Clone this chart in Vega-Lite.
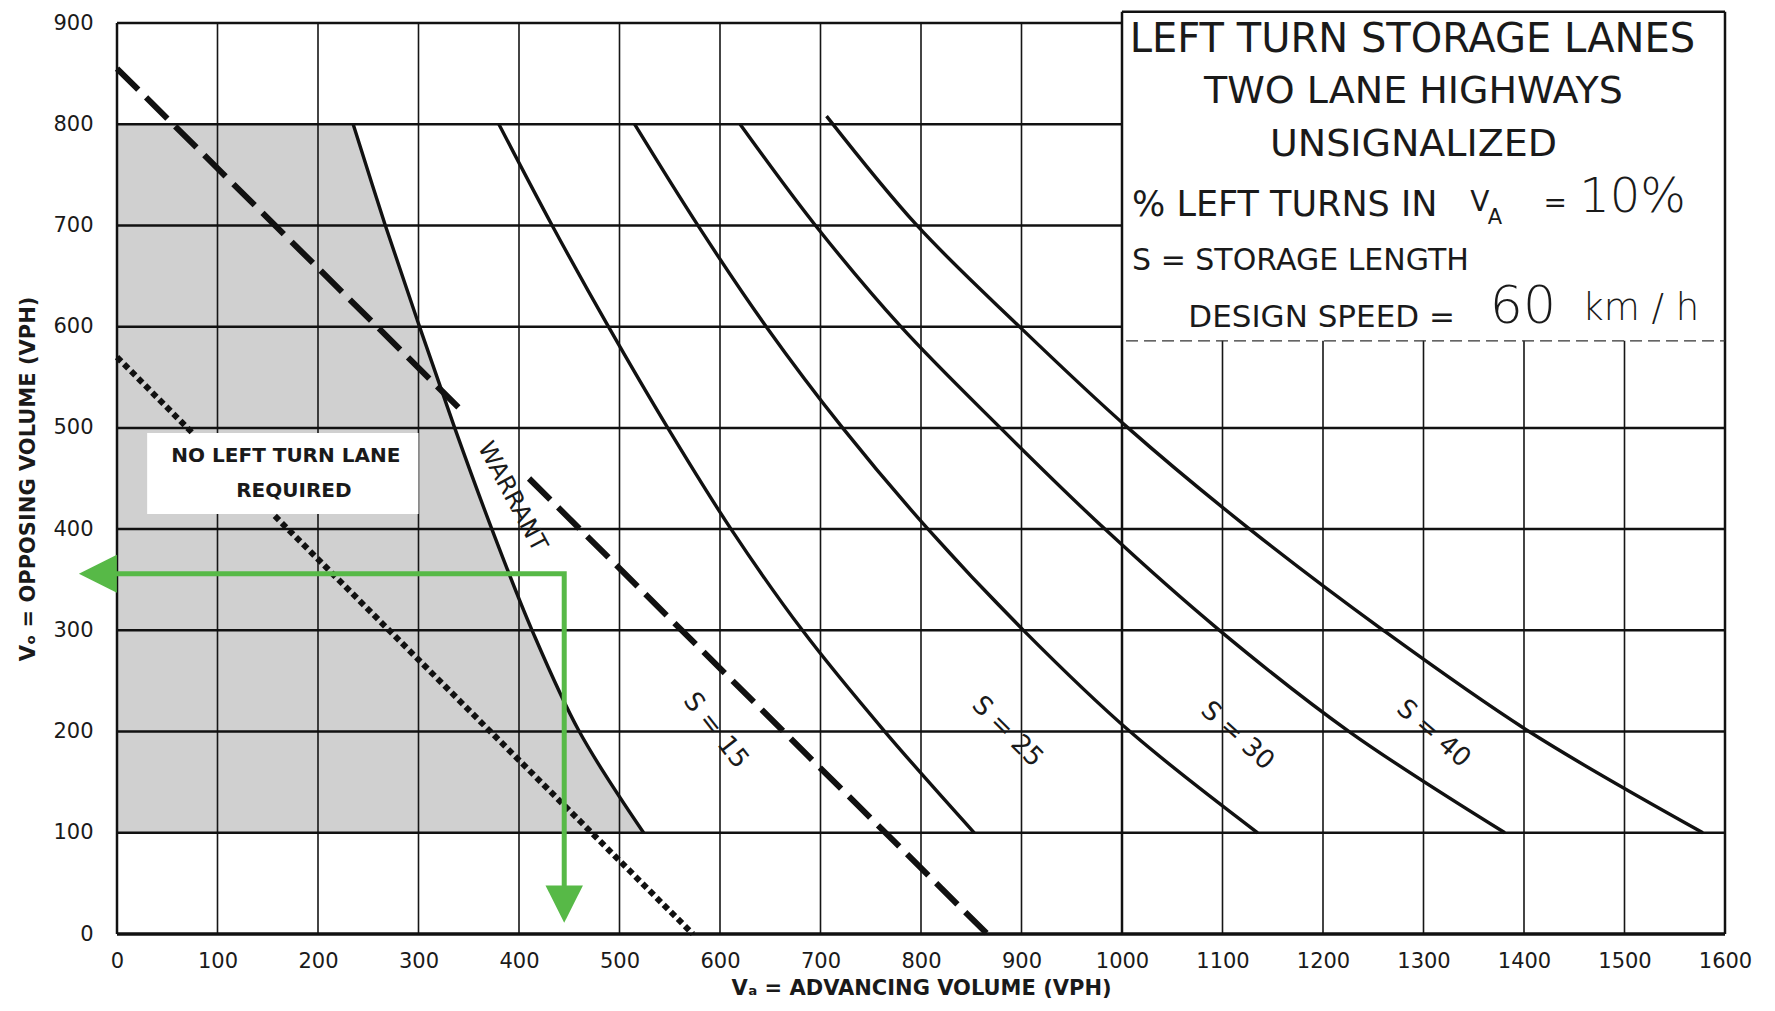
{
  "$schema": "https://vega.github.io/schema/vega-lite/v6.json",
  "width": 1608,
  "height": 911,
  "autosize": {"type": "none"},
  "padding": {"left": 117, "top": 23, "right": 50, "bottom": 77},
  "background": "#ffffff",
  "config": {
    "view": {"stroke": null},
    "text": {"font": "DejaVu Sans", "color": "#1a1a1a"},
    "axis": {"labelFont": "DejaVu Sans", "titleFont": "DejaVu Sans", "labelColor": "#1a1a1a", "titleColor": "#1a1a1a"}
  },
  "encoding": {
    "x": {
      "field": "x", "type": "quantitative",
      "scale": {"domain": [0, 1600], "nice": false, "zero": false},
      "axis": {
        "values": [0,100,200,300,400,500,600,700,800,900,1000,1100,1200,1300,1400,1500,1600],
        "format": "d",
        "ticks": false, "domain": false, "grid": false,
        "labelFontSize": 21, "labelPadding": 16, "labelFlush": false, "labelOverlap": false, "labelBound": false,
        "title": "Vₐ = ADVANCING VOLUME (VPH)", "titleFontSize": 21, "titleFontWeight": "bold", "titlePadding": 6
      }
    },
    "y": {
      "field": "y", "type": "quantitative",
      "scale": {"domain": [0, 900], "nice": false, "zero": false},
      "axis": {
        "values": [0,100,200,300,400,500,600,700,800,900],
        "format": "d",
        "ticks": false, "domain": false, "grid": false,
        "labelFontSize": 21, "labelPadding": 24, "labelFlush": false, "labelOverlap": false, "labelBound": false,
        "title": "Vₒ = OPPOSING VOLUME (VPH)", "titleFontSize": 21, "titleFontWeight": "bold", "titlePadding": 14
      }
    }
  },
  "layer": [
    {
      "data": {"values": [
        {"x": 524, "y": 100}, {"x": 460, "y": 200}, {"x": 413, "y": 300}, {"x": 373, "y": 400},
        {"x": 336, "y": 500}, {"x": 301, "y": 600}, {"x": 267, "y": 700}, {"x": 235, "y": 800}
      ]},
      "mark": {"type": "area", "orient": "horizontal", "color": "#d0d0d0", "opacity": 1, "interpolate": "catmull-rom", "clip": false},
      "encoding": {"x2": {"datum": 0}}
    },
    {
      "data": {"values": [
        {"x": 100, "x2": 100, "y": 0, "y2": 900}, {"x": 200, "x2": 200, "y": 0, "y2": 900},
        {"x": 300, "x2": 300, "y": 0, "y2": 900}, {"x": 400, "x2": 400, "y": 0, "y2": 900},
        {"x": 500, "x2": 500, "y": 0, "y2": 900}, {"x": 600, "x2": 600, "y": 0, "y2": 900},
        {"x": 700, "x2": 700, "y": 0, "y2": 900}, {"x": 800, "x2": 800, "y": 0, "y2": 900},
        {"x": 900, "x2": 900, "y": 0, "y2": 900},
        {"x": 1100, "x2": 1100, "y": 0, "y2": 586}, {"x": 1200, "x2": 1200, "y": 0, "y2": 586},
        {"x": 1300, "x2": 1300, "y": 0, "y2": 586}, {"x": 1400, "x2": 1400, "y": 0, "y2": 586},
        {"x": 1500, "x2": 1500, "y": 0, "y2": 586}
      ]},
      "mark": {"type": "rule", "color": "#161616", "strokeWidth": 1.6, "clip": false},
      "encoding": {"x2": {"field": "x2"}, "y2": {"field": "y2"}}
    },
    {
      "data": {"values": [
        {"x": 0, "x2": 1600, "y": 100, "y2": 100}, {"x": 0, "x2": 1600, "y": 200, "y2": 200},
        {"x": 0, "x2": 1600, "y": 300, "y2": 300}, {"x": 0, "x2": 1600, "y": 400, "y2": 400},
        {"x": 0, "x2": 1600, "y": 500, "y2": 500}, {"x": 0, "x2": 1000, "y": 600, "y2": 600},
        {"x": 0, "x2": 1000, "y": 700, "y2": 700}, {"x": 0, "x2": 1000, "y": 800, "y2": 800}
      ]},
      "mark": {"type": "rule", "color": "#111111", "strokeWidth": 2.5, "clip": false},
      "encoding": {"x2": {"field": "x2"}, "y2": {"field": "y2"}}
    },
    {
      "data": {"values": [
        {"x": 30, "x2": 300, "y": 415, "y2": 495}
      ]},
      "mark": {"type": "rect", "color": "#ffffff", "opacity": 1, "clip": false},
      "encoding": {"x2": {"field": "x2"}, "y2": {"field": "y2"}}
    },
    {
      "data": {"values": [
        {"x": 0, "x2": 0, "y": 0, "y2": 900}, {"x": 1000, "x2": 1000, "y": 0, "y2": 911},
        {"x": 1600, "x2": 1600, "y": 0, "y2": 911}, {"x": 0, "x2": 1000, "y": 900, "y2": 900},
        {"x": 1000, "x2": 1600, "y": 911, "y2": 911}
      ]},
      "mark": {"type": "rule", "color": "#111111", "strokeWidth": 2.5, "clip": false},
      "encoding": {"x2": {"field": "x2"}, "y2": {"field": "y2"}}
    },
    {
      "data": {"values": [
        {"x": 0, "x2": 1600, "y": 0, "y2": 0}
      ]},
      "mark": {"type": "rule", "color": "#111111", "strokeWidth": 3.6, "clip": false},
      "encoding": {"x2": {"field": "x2"}, "y2": {"field": "y2"}}
    },
    {
      "data": {"values": [
        {"x": 1004, "x2": 1600, "y": 586, "y2": 586}
      ]},
      "mark": {"type": "rule", "color": "#333333", "strokeWidth": 1.2, "strokeDash": [12, 6], "clip": false},
      "encoding": {"x2": {"field": "x2"}, "y2": {"field": "y2"}}
    },
    {
      "data": {"values": [
        {"c": "warrant", "x": 235, "y": 800}, {"c": "warrant", "x": 267, "y": 700}, {"c": "warrant", "x": 301, "y": 600},
        {"c": "warrant", "x": 336, "y": 500}, {"c": "warrant", "x": 373, "y": 400}, {"c": "warrant", "x": 413, "y": 300},
        {"c": "warrant", "x": 460, "y": 200}, {"c": "warrant", "x": 524, "y": 100},
        {"c": "S15", "x": 380, "y": 800}, {"c": "S15", "x": 433, "y": 700}, {"c": "S15", "x": 489, "y": 600},
        {"c": "S15", "x": 548, "y": 500}, {"c": "S15", "x": 611, "y": 400}, {"c": "S15", "x": 682, "y": 300},
        {"c": "S15", "x": 764, "y": 200}, {"c": "S15", "x": 853, "y": 100},
        {"c": "S25", "x": 515, "y": 800}, {"c": "S25", "x": 578, "y": 700}, {"c": "S25", "x": 646, "y": 600},
        {"c": "S25", "x": 722, "y": 500}, {"c": "S25", "x": 807, "y": 400}, {"c": "S25", "x": 902, "y": 300},
        {"c": "S25", "x": 1008, "y": 200}, {"c": "S25", "x": 1135, "y": 100},
        {"c": "S30", "x": 620, "y": 800}, {"c": "S30", "x": 695, "y": 700}, {"c": "S30", "x": 780, "y": 600},
        {"c": "S30", "x": 879, "y": 500}, {"c": "S30", "x": 983, "y": 400}, {"c": "S30", "x": 1097, "y": 300},
        {"c": "S30", "x": 1226, "y": 200}, {"c": "S30", "x": 1381, "y": 100},
        {"c": "S40", "x": 706, "y": 808}, {"c": "S40", "x": 796, "y": 700}, {"c": "S40", "x": 898, "y": 600},
        {"c": "S40", "x": 1006, "y": 500}, {"c": "S40", "x": 1127, "y": 400}, {"c": "S40", "x": 1260, "y": 300},
        {"c": "S40", "x": 1405, "y": 200}, {"c": "S40", "x": 1578, "y": 100}
      ]},
      "mark": {"type": "line", "color": "#111111", "strokeWidth": 3.4, "interpolate": "catmull-rom", "clip": false},
      "encoding": {"detail": {"field": "c"}}
    },
    {
      "data": {"values": [
        {"seg": "a", "x": 0, "y": 855}, {"seg": "a", "x": 343, "y": 517},
        {"seg": "b", "x": 410, "y": 450}, {"seg": "b", "x": 866, "y": 0}
      ]},
      "mark": {"type": "line", "color": "#111111", "strokeWidth": 6, "strokeDash": [30, 11], "clip": false},
      "encoding": {"detail": {"field": "seg"}}
    },
    {
      "data": {"values": [
        {"seg": "a", "x": 0, "y": 570}, {"seg": "a", "x": 75, "y": 495},
        {"seg": "b", "x": 157, "y": 413}, {"seg": "b", "x": 573, "y": 0}
      ]},
      "mark": {"type": "line", "color": "#111111", "strokeWidth": 6, "strokeDash": [6, 4], "clip": false},
      "encoding": {"detail": {"field": "seg"}}
    },
    {
      "data": {"values": [{"x": 1289, "y": 883, "t": "LEFT TURN STORAGE LANES"}]},
      "mark": {"type": "text", "fontSize": 40, "align": "center", "baseline": "middle", "clip": false},
      "encoding": {"text": {"field": "t"}}
    },
    {
      "data": {"values": [{"x": 1290, "y": 832, "t": "TWO LANE HIGHWAYS"}, {"x": 1290, "y": 779, "t": "UNSIGNALIZED"}]},
      "mark": {"type": "text", "fontSize": 38, "align": "center", "baseline": "middle", "clip": false},
      "encoding": {"text": {"field": "t"}}
    },
    {
      "data": {"values": [{"x": 1010, "y": 720, "t": "% LEFT TURNS IN"}]},
      "mark": {"type": "text", "fontSize": 35, "align": "left", "baseline": "middle", "clip": false},
      "encoding": {"text": {"field": "t"}}
    },
    {
      "data": {"values": [{"x": 1356, "y": 722, "t": "V"}, {"x": 1431, "y": 721, "t": "="}]},
      "mark": {"type": "text", "fontSize": 28, "align": "center", "baseline": "middle", "clip": false},
      "encoding": {"text": {"field": "t"}}
    },
    {
      "data": {"values": [{"x": 1371, "y": 707, "t": "A"}]},
      "mark": {"type": "text", "fontSize": 21, "align": "center", "baseline": "middle", "clip": false},
      "encoding": {"text": {"field": "t"}}
    },
    {
      "data": {"values": [{"x": 1455, "y": 727, "t": "10%"}]},
      "mark": {"type": "text", "fontSize": 48, "fontWeight": 300, "align": "left", "baseline": "middle", "clip": false},
      "encoding": {"text": {"field": "t"}}
    },
    {
      "data": {"values": [{"x": 1010, "y": 665, "t": "S = STORAGE LENGTH"}]},
      "mark": {"type": "text", "fontSize": 30, "align": "left", "baseline": "middle", "clip": false},
      "encoding": {"text": {"field": "t"}}
    },
    {
      "data": {"values": [{"x": 1066, "y": 609, "t": "DESIGN SPEED ="}]},
      "mark": {"type": "text", "fontSize": 31, "align": "left", "baseline": "middle", "clip": false},
      "encoding": {"text": {"field": "t"}}
    },
    {
      "data": {"values": [{"x": 1366, "y": 619, "t": "60"}]},
      "mark": {"type": "text", "fontSize": 52, "fontWeight": 300, "align": "left", "baseline": "middle", "clip": false},
      "encoding": {"text": {"field": "t"}}
    },
    {
      "data": {"values": [{"x": 1458, "y": 617, "t": "km / h"}]},
      "mark": {"type": "text", "fontSize": 37, "fontWeight": 300, "align": "left", "baseline": "middle", "clip": false},
      "encoding": {"text": {"field": "t"}}
    },
    {
      "data": {"values": [{"x": 168, "y": 472, "t": "NO LEFT TURN LANE"}, {"x": 176, "y": 438, "t": "REQUIRED"}]},
      "mark": {"type": "text", "fontSize": 20, "fontWeight": "bold", "align": "center", "baseline": "middle", "clip": false},
      "encoding": {"text": {"field": "t"}}
    },
    {
      "data": {"values": [{"x": 393, "y": 432, "t": "WARRANT"}]},
      "mark": {"type": "text", "fontSize": 24, "angle": 62, "align": "center", "baseline": "middle", "clip": false},
      "encoding": {"text": {"field": "t"}}
    },
    {
      "data": {"values": [{"x": 596, "y": 201, "t": "S = 15"}]},
      "mark": {"type": "text", "fontSize": 26, "angle": 52, "align": "center", "baseline": "middle", "clip": false},
      "encoding": {"text": {"field": "t"}}
    },
    {
      "data": {"values": [{"x": 886, "y": 200, "t": "S = 25"}]},
      "mark": {"type": "text", "fontSize": 26, "angle": 45, "align": "center", "baseline": "middle", "clip": false},
      "encoding": {"text": {"field": "t"}}
    },
    {
      "data": {"values": [{"x": 1115, "y": 196, "t": "S = 30"}]},
      "mark": {"type": "text", "fontSize": 26, "angle": 42, "align": "center", "baseline": "middle", "clip": false},
      "encoding": {"text": {"field": "t"}}
    },
    {
      "data": {"values": [{"x": 1310, "y": 198, "t": "S = 40"}]},
      "mark": {"type": "text", "fontSize": 26, "angle": 41, "align": "center", "baseline": "middle", "clip": false},
      "encoding": {"text": {"field": "t"}}
    },
    {
      "data": {"values": [
        {"o": 1, "x": 0, "y": 356}, {"o": 2, "x": 445, "y": 356}, {"o": 3, "x": 445, "y": 48}
      ]},
      "mark": {"type": "line", "color": "#57b947", "strokeWidth": 5, "strokeJoin": "miter", "strokeCap": "square", "clip": false},
      "encoding": {"order": {"field": "o", "type": "quantitative"}}
    },
    {
      "data": {"values": [{"x": -19, "y": 356}]},
      "mark": {"type": "point", "shape": "M-1,0L1,-1L1,1Z", "size": 1444, "filled": true, "color": "#57b947", "opacity": 1, "strokeWidth": 0, "clip": false},
      "encoding": {}
    },
    {
      "data": {"values": [{"x": 445, "y": 29.5}]},
      "mark": {"type": "point", "shape": "M-1,-1L1,-1L0,1Z", "size": 1400, "filled": true, "color": "#57b947", "opacity": 1, "strokeWidth": 0, "clip": false},
      "encoding": {}
    }
  ]
}
